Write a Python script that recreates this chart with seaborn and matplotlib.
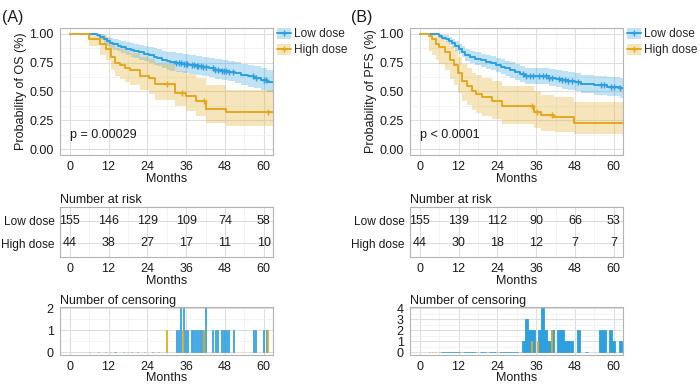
import numpy as np
import matplotlib
matplotlib.use("Agg")
import matplotlib.pyplot as plt
import seaborn as sns
from matplotlib.lines import Line2D
from matplotlib.patches import Patch
from matplotlib.ticker import MultipleLocator

# ---------------- data ----------------
groups = ["Low dose", "High dose"]
risk_times = [0, 12, 24, 36, 48, 60]
follow_up_end = 64

# (A) overall survival
os_low_t = [0, 8.5, 9.5, 10.5, 11.5, 12.5, 13.5, 15, 16, 17.5, 19, 20, 21.5, 23, 24.5, 26, 27, 28.5,
            30, 31, 33, 35, 37, 39, 41, 43, 45, 47, 49, 51, 53, 55, 57, 59, 61]
os_low_s = [1.0, 0.987, 0.974, 0.955, 0.935, 0.922, 0.910, 0.897, 0.884, 0.871, 0.858, 0.851, 0.838,
            0.825, 0.812, 0.799, 0.786, 0.773, 0.76, 0.753, 0.745, 0.737, 0.728, 0.72, 0.711, 0.70,
            0.69, 0.68, 0.672, 0.66, 0.645, 0.63, 0.615, 0.60, 0.585]
os_low_hi = [1.0, 1.0, 0.995, 0.99, 0.975, 0.965, 0.958, 0.948, 0.94, 0.93, 0.92, 0.915, 0.905, 0.895,
             0.885, 0.875, 0.865, 0.855, 0.845, 0.838, 0.832, 0.825, 0.815, 0.808, 0.80, 0.79, 0.782,
             0.773, 0.765, 0.755, 0.742, 0.73, 0.717, 0.703, 0.69]
os_low_lo = [1.0, 0.97, 0.95, 0.92, 0.895, 0.88, 0.862, 0.847, 0.832, 0.815, 0.80, 0.792, 0.777, 0.762,
             0.747, 0.732, 0.718, 0.703, 0.689, 0.681, 0.672, 0.663, 0.653, 0.644, 0.634, 0.622, 0.611,
             0.60, 0.59, 0.577, 0.56, 0.543, 0.527, 0.51, 0.493]
os_high_t = [0, 6, 9.5, 11.2, 12.9, 14, 15.5, 17, 18.5, 21.8, 24.5, 26.5, 32.6, 35.8, 38.9, 42, 48.3]
os_high_s = [1.0, 0.955, 0.91, 0.864, 0.795, 0.75, 0.727, 0.705, 0.682, 0.636, 0.614, 0.568, 0.49,
             0.46, 0.42, 0.35, 0.32]
os_high_hi = [1.0, 1.0, 0.99, 0.96, 0.91, 0.88, 0.865, 0.85, 0.83, 0.80, 0.78, 0.74, 0.68, 0.65,
              0.62, 0.56, 0.51]
os_high_lo = [1.0, 0.89, 0.82, 0.77, 0.69, 0.63, 0.61, 0.58, 0.56, 0.51, 0.48, 0.43, 0.37, 0.33,
              0.29, 0.23, 0.20]
os_risk_low = [155, 146, 129, 109, 74, 58]
os_risk_high = [44, 38, 27, 17, 11, 10]
os_cens_low_t = [9, 11, 14, 16.5, 19, 21, 23, 25.5, 27.5, 33, 33.7, 34.3, 35.2, 35.8, 36.4, 37.8,
                 38.5, 39.2, 39.8, 40.6, 41.3, 42, 44.2, 45, 45.8, 47, 47.7, 48.4, 49.1, 50.6, 56.8,
                 57.5, 60, 60.8]
os_cens_low_n = [0, 0, 0, 0, 0, 0, 0, 0, 0, 1, 1, 2, 2, 1, 1, 1, 1, 1, 1, 1, 1, 2, 1, 1, 1, 1, 1,
                 1, 1, 1, 1, 1, 1, 1]
os_cens_high_t = [6, 12.5, 18, 26, 30, 34.8, 41.4, 61.2]
os_cens_high_n = [0, 0, 0, 0, 1, 1, 1, 1]

# (B) progression-free survival
pfs_low_t = [0, 6, 7, 8, 9, 10, 11, 12, 13, 14, 15.5, 17, 19, 20.5, 22, 23.5, 25, 26.5, 28, 29.5,
             31, 32.5, 40, 42, 44, 46, 48, 50, 54, 58, 62]
pfs_low_s = [1.0, 0.98, 0.967, 0.955, 0.935, 0.916, 0.896, 0.87, 0.845, 0.82, 0.80, 0.785, 0.77,
             0.757, 0.744, 0.73, 0.715, 0.70, 0.685, 0.67, 0.655, 0.635, 0.62, 0.61, 0.60, 0.59,
             0.58, 0.565, 0.552, 0.54, 0.53]
pfs_low_hi = [1.0, 1.0, 0.992, 0.985, 0.97, 0.956, 0.938, 0.915, 0.895, 0.872, 0.855, 0.842, 0.828,
              0.817, 0.806, 0.793, 0.78, 0.766, 0.752, 0.738, 0.725, 0.707, 0.693, 0.684, 0.675,
              0.666, 0.657, 0.643, 0.632, 0.622, 0.615]
pfs_low_lo = [1.0, 0.96, 0.942, 0.925, 0.90, 0.876, 0.854, 0.825, 0.795, 0.768, 0.745, 0.728, 0.712,
              0.697, 0.682, 0.667, 0.65, 0.634, 0.618, 0.602, 0.585, 0.563, 0.547, 0.536, 0.525,
              0.514, 0.503, 0.487, 0.472, 0.458, 0.445]
pfs_high_t = [0, 3, 3.8, 4.9, 5.9, 7.9, 9.5, 10.5, 11.9, 13.2, 14.7, 16.3, 17.3, 19.4, 22.4, 25.5,
              35.3, 37.4, 41.5, 47.7]
pfs_high_s = [1.0, 0.977, 0.955, 0.909, 0.886, 0.841, 0.773, 0.727, 0.659, 0.59, 0.545, 0.50, 0.477,
              0.455, 0.42, 0.375, 0.325, 0.30, 0.275, 0.23]
pfs_high_hi = [1.0, 1.0, 0.995, 0.98, 0.97, 0.94, 0.89, 0.86, 0.80, 0.74, 0.70, 0.66, 0.64, 0.62,
               0.59, 0.55, 0.50, 0.47, 0.45, 0.41]
pfs_high_lo = [1.0, 0.85, 0.82, 0.77, 0.74, 0.69, 0.61, 0.56, 0.49, 0.42, 0.38, 0.34, 0.31, 0.29,
               0.26, 0.22, 0.18, 0.16, 0.145, 0.13]
pfs_risk_low = [155, 139, 112, 90, 66, 53]
pfs_risk_high = [44, 30, 18, 12, 7, 7]
pfs_cens_low_t = [7, 8, 9, 10, 11, 12, 14, 15, 16, 17, 19, 20, 22, 23, 25, 26, 27, 28, 29, 30, 32,
                  33, 34, 35, 37, 38, 39, 40, 41, 43, 44, 45, 46, 47, 49, 51.5, 56, 57, 59, 60, 62]
pfs_cens_low_n = [0, 0, 0, 0, 0, 0, 0, 0, 0, 0, 0, 0, 0, 0, 0, 0, 0, 0, 0, 0, 1, 3, 2, 2, 2, 4, 2,
                  1, 2, 2, 2, 1, 1, 1, 2, 0, 2, 2, 2, 1, 1]
pfs_cens_high_t = [3, 4, 5, 6, 13, 18, 21, 24, 31, 34.6, 36.4, 40.8]
pfs_cens_high_n = [0, 0, 0, 0, 0, 0, 0, 0, 0, 1, 1, 2]

# ---------------- style ----------------
sns.set_theme(style="white")
plt.rcParams["font.family"] = ["Liberation Sans", "DejaVu Sans"]
BLUE = "#2E9FDF"
GOLD = "#E4A820"
colors = {"Low dose": BLUE, "High dose": GOLD}
TXT = "#1a1a1a"
FS = 9


def style_axes(ax):
    for sp in ax.spines.values():
        sp.set_color("#B3B3B3")
        sp.set_linewidth(0.8)
    ax.grid(True, which="major", color="#DEDEDE", lw=0.8)
    ax.grid(True, which="minor", color="#EEEEEE", lw=0.5)
    ax.set_axisbelow(True)
    ax.tick_params(which="major", length=3, width=0.6, color="#555555",
                   labelsize=FS, labelcolor=TXT, pad=1.5)
    ax.tick_params(which="minor", length=0)
    ax.set_xlim(-3, 63)
    ax.xaxis.set_major_locator(MultipleLocator(12))
    ax.xaxis.set_minor_locator(MultipleLocator(6))


def step_value(t_list, s_list, t):
    idx = np.searchsorted(t_list, t, side="right") - 1
    return s_list[idx]


def km_panel(ax, curves, cens, pval, ylabel):
    for g in groups:
        t, s, lo, hi = curves[g]
        tt = t + [follow_up_end]
        ax.fill_between(tt, lo + [lo[-1]], hi + [hi[-1]], step="post",
                        color=colors[g], alpha=0.3, lw=0)
        sns.lineplot(x=tt, y=s + [s[-1]], drawstyle="steps-post", color=colors[g],
                     lw=1.4, ax=ax)
        ct = [c for c, n in zip(*cens[g]) if n > 0]
        cy = [step_value(t, s, c) for c in ct]
        ax.plot(ct, cy, "+", color=colors[g], ms=5, mew=1)
    style_axes(ax)
    ax.set_ylim(-0.05, 1.05)
    ax.yaxis.set_major_locator(MultipleLocator(0.25))
    ax.yaxis.set_minor_locator(MultipleLocator(0.125))
    ax.set_yticklabels([f"{v:.2f}" for v in ax.get_yticks()])
    ax.set_ylim(-0.05, 1.05)
    ax.set_xlabel("Months", fontsize=FS, color=TXT, labelpad=0)
    ax.set_ylabel(ylabel, fontsize=FS, color=TXT, labelpad=2)
    ax.text(0, 0.12, pval, fontsize=FS, color=TXT, ha="left", va="center")
    handles = [(Patch(color=colors[g], alpha=0.3, lw=0),
                Line2D([], [], color=colors[g], lw=1.4, marker="+", ms=5, mew=1))
               for g in groups]
    ax.legend(handles, groups, loc="upper left", bbox_to_anchor=(1.015, 1.0), frameon=False,
              fontsize=8.6, handlelength=1.2, handleheight=1.0, handletextpad=0.25,
              labelspacing=0.3, borderaxespad=0, borderpad=0)


def risk_panel(ax, low, high):
    style_axes(ax)
    for y, vals in [(2, low), (1, high)]:
        for t, n in zip(risk_times, vals):
            ax.text(t, y, str(n), ha="center", va="center", fontsize=FS, color=TXT)
    ax.set_ylim(0.4, 2.6)
    ax.set_yticks([2, 1])
    ax.set_yticklabels(groups, fontsize=8.6)
    ax.tick_params(axis="y", pad=1)
    ax.set_xticks(risk_times)
    ax.set_xlabel("Months", fontsize=FS, color=TXT, labelpad=0)
    ax.set_title("Number at risk", loc="left", fontsize=FS, color=TXT, pad=3)


def cens_panel(ax, cens, width, ymax):
    for g in groups:
        t, n = cens[g]
        ax.bar(t, n, width=width if g == "Low dose" else 0.3, color=colors[g],
               edgecolor=colors[g], lw=0.6, alpha=1.0 if ymax > 2 else 0.9)
    style_axes(ax)
    ax.set_ylim(-0.06 * ymax, ymax * 1.03)
    ax.yaxis.set_major_locator(MultipleLocator(1))
    ax.yaxis.set_minor_locator(MultipleLocator(0.5))
    ax.set_xlabel("Months", fontsize=FS, color=TXT, labelpad=-1)
    ax.set_title("Number of censoring", loc="left", fontsize=FS, color=TXT, pad=2)


fig = plt.figure(figsize=(7.0, 3.84), dpi=100)

W = 0.3050
KM_B, KM_H = 0.5964, 0.3307
RK_B, RK_H = 0.3307, 0.1302
CN_B, CN_H = 0.0755, 0.1250

panels = [
    (0.0857, "(A)", 0.003,
     {"Low dose": (os_low_t, os_low_s, os_low_lo, os_low_hi),
      "High dose": (os_high_t, os_high_s, os_high_lo, os_high_hi)},
     {"Low dose": (os_cens_low_t, os_cens_low_n), "High dose": (os_cens_high_t, os_cens_high_n)},
     "p = 0.00029", "Probability of OS (%)", os_risk_low, os_risk_high, 0.35, 2),
    (0.5857, "(B)", 0.502,
     {"Low dose": (pfs_low_t, pfs_low_s, pfs_low_lo, pfs_low_hi),
      "High dose": (pfs_high_t, pfs_high_s, pfs_high_lo, pfs_high_hi)},
     {"Low dose": (pfs_cens_low_t, pfs_cens_low_n), "High dose": (pfs_cens_high_t, pfs_cens_high_n)},
     "p < 0.0001", "Probability of PFS (%)", pfs_risk_low, pfs_risk_high, 1.0, 4),
]

for left, tag, tag_x, curves, cens, pval, ylab, rlow, rhigh, bw, ymax in panels:
    ax_km = fig.add_axes([left, KM_B, W, KM_H])
    km_panel(ax_km, curves, cens, pval, ylab)
    ax_rk = fig.add_axes([left, RK_B, W, RK_H])
    risk_panel(ax_rk, rlow, rhigh)
    ax_cn = fig.add_axes([left, CN_B, W, CN_H])
    cens_panel(ax_cn, cens, bw, ymax)
    fig.text(tag_x, 0.975, tag, fontsize=11.5, color=TXT, ha="left", va="top")

fig.savefig("out.png", dpi=100)
